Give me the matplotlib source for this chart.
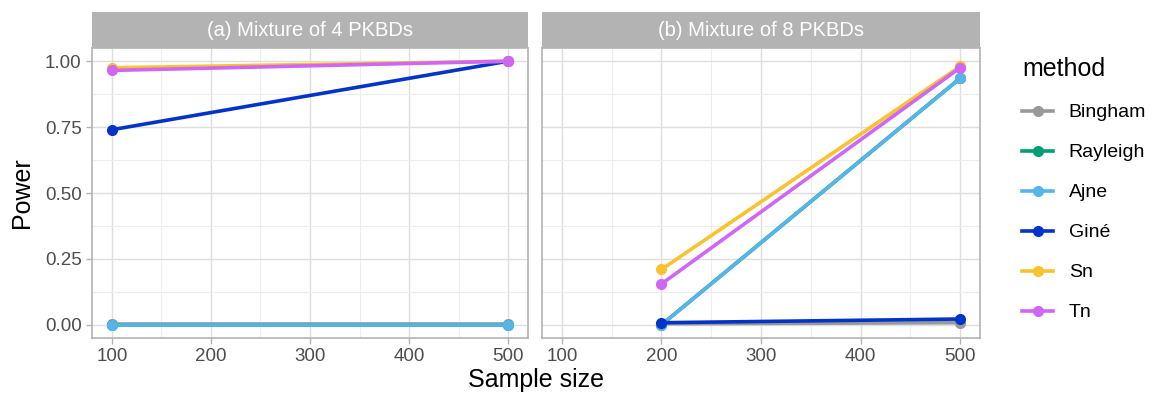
import matplotlib
matplotlib.use("Agg")
import matplotlib.pyplot as plt
from matplotlib.lines import Line2D

plt.rcParams['font.family'] = ['Liberation Sans', 'DejaVu Sans']

methods = ["Bingham", "Rayleigh", "Ajne", "Giné", "Sn", "Tn"]
colors = ["#999999", "#009E73", "#56B4E9", "#0433C8", "#F9C22E", "#D066F5"]

# panel (a): mixture of 4 PKBDs
n_a = [100, 500]
power_a = {
    "Bingham": [0.005, 0.005],
    "Rayleigh": [0.0, 0.0],
    "Ajne": [0.0, 0.0],
    "Giné": [0.74, 1.0],
    "Sn": [0.975, 1.0],
    "Tn": [0.965, 1.0],
}

# panel (b): mixture of 8 PKBDs
n_b = [200, 500]
power_b = {
    "Bingham": [0.004, 0.008],
    "Rayleigh": [0.0, 0.935],
    "Ajne": [0.0, 0.935],
    "Giné": [0.008, 0.022],
    "Sn": [0.21, 0.98],
    "Tn": [0.155, 0.975],
}

titles = ["(a) Mixture of 4 PKBDs", "(b) Mixture of 8 PKBDs"]
xticks = [100, 200, 300, 400, 500]
yticks = [0.0, 0.25, 0.5, 0.75, 1.0]

fig = plt.figure(figsize=(11.52, 4), dpi=100)
ax1 = fig.add_axes([0.0799, 0.155, 0.3784, 0.725])
ax2 = fig.add_axes([0.4705, 0.155, 0.3802, 0.725], sharey=ax1)

for ax, xs, data, title in [(ax1, n_a, power_a, titles[0]), (ax2, n_b, power_b, titles[1])]:
    for m, c in zip(methods, colors):
        ax.plot(xs, data[m], color=c, lw=2.6, marker="o", ms=7, zorder=3)
    ax.set_xlim(80, 520)
    ax.set_ylim(-0.05, 1.05)
    ax.set_xticks(xticks)
    ax.set_xticks([150, 250, 350, 450], minor=True)
    ax.set_yticks(yticks)
    ax.set_yticks([0.125, 0.375, 0.625, 0.875], minor=True)
    ax.grid(which="major", color="#DEDEDE", lw=1.0)
    ax.grid(which="minor", color="#EDEDED", lw=0.8)
    ax.set_axisbelow(True)
    for s in ax.spines.values():
        s.set_color("#B3B3B3")
        s.set_linewidth(1.2)
    ax.tick_params(which="major", colors="#B3B3B3", labelcolor="#4D4D4D",
                   labelsize=13.5, length=4, width=1)
    ax.tick_params(which="minor", length=0)
    # facet strip
    strip = plt.Rectangle((0, 1.0), 1, 0.124, transform=ax.transAxes,
                          facecolor="#B3B3B3", edgecolor="none", clip_on=False)
    ax.add_patch(strip)
    ax.text(0.5, 1.062, title, transform=ax.transAxes, ha="center", va="center",
            color="white", fontsize=14.5)

ax1.yaxis.set_major_formatter(plt.FuncFormatter(lambda v, p: f"{v:.2f}"))
plt.setp(ax2.get_yticklabels(), visible=False)
ax2.tick_params(axis="y", length=0)

ax1.set_ylabel("Power", fontsize=18, color="black", labelpad=8)
fig.text(0.465, 0.02, "Sample size", ha="center", va="bottom", fontsize=18)

handles = [Line2D([], [], color=c, lw=2.6, marker="o", ms=7) for c in colors]
leg = fig.legend(handles, methods, title="method", loc="upper left",
                 bbox_to_anchor=(0.872, 0.9), frameon=False, fontsize=14,
                 title_fontsize=18, handlelength=1.6, labelspacing=1.15,
                 handletextpad=0.8)
leg._legend_box.align = "left"

fig.savefig("out.png", dpi=100)
